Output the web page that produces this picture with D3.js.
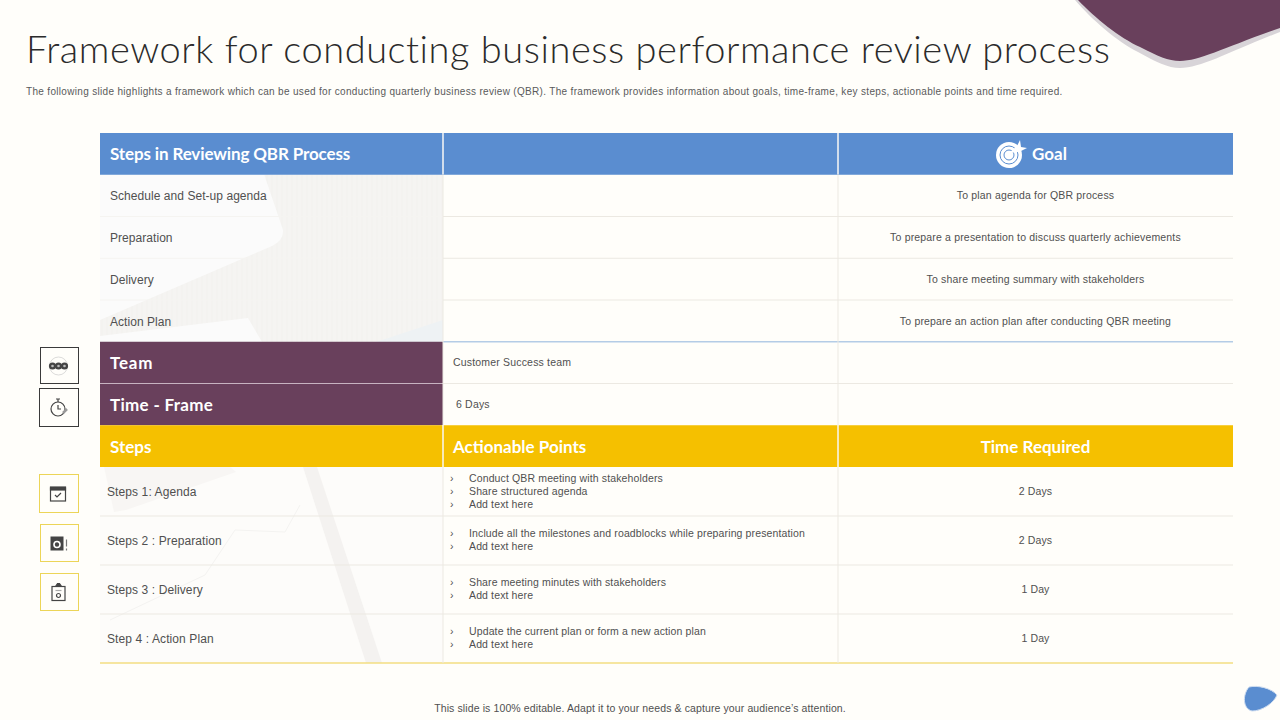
<!DOCTYPE html>
<html>
<head>
<meta charset="utf-8">
<script src="https://cdn.jsdelivr.net/npm/d3@7"></script>
<style>
  html, body { margin: 0; padding: 0; background: #fffefa; }
  svg { display: block; }
  .head { font-family: Lato, sans-serif; font-weight: 700; fill: #fff; }
  .cell { font-family: "Liberation Sans", Arial, sans-serif; fill: #505050; }
</style>
</head>
<body>
<svg id="chart" width="1280" height="720"></svg>
<script>
const titleText = 'Framework for conducting business performance review process';
const subtitleText = 'The following slide highlights a framework which can be used for conducting quarterly business review (QBR). The framework provides information about goals, time-frame, key steps, actionable points and time required.';
const footerText = 'This slide is 100% editable.  Adapt it to your needs & capture your audience\u2019s attention.';

const upperRows = ['review', 'schedule', 'preparation', 'delivery', 'action', 'team', 'time', 'steps'];
const lowerRows = ['s1', 's2', 's3', 's4'];

const reviewSteps = ['Schedule and Set-up agenda', 'Preparation', 'Delivery', 'Action Plan'];
const reviewGoals = [
  'To plan agenda for QBR process',
  'To prepare a presentation to discuss quarterly achievements',
  'To share meeting summary with stakeholders',
  'To prepare an action plan after conducting QBR meeting'
];
const stepNames = ['Steps 1: Agenda', 'Steps 2 : Preparation', 'Steps 3 : Delivery', 'Step 4 : Action Plan'];
const stepPoints = [
  ['Conduct QBR meeting with stakeholders', 'Share structured agenda', 'Add text here'],
  ['Include all the milestones and roadblocks while preparing presentation', 'Add text here'],
  ['Share meeting minutes with stakeholders', 'Add text here'],
  ['Update the current plan or form a new action plan', 'Add text here']
];
const stepTimes = ['2 Days', '2 Days', '1 Day', '1 Day'];

const BLUE = '#5a8dd0', PLUM = '#69405c', GOLD = '#f5c000', RULE = '#ece9e2';

const svg = d3.select('#chart');

// scales for the table grid
const colX = { label: 100, middle: 443, right: 838, end: 1233 };
const yUp = d3.scaleBand().domain(upperRows).range([133, 467]);
const yLow = d3.scaleBand().domain(lowerRows).range([467, 663]);
const colMid = (colX.right + colX.end) / 2;

// ---- Corner shapes ----
svg.append('path').attr('fill', '#d8d4d8')
  .attr('d', 'M1075,0 C1092,20 1118,42 1138,52 C1156,62 1168,68 1180,68 C1202,68 1228,52 1280,32 L1280,0 Z');
svg.append('path').attr('fill', PLUM)
  .attr('d', 'M1078,0 C1095,18 1120,38 1140,47 C1158,56 1168,61 1180,61 C1200,61 1225,47 1280,28 L1280,0 Z');
svg.append('path').attr('fill', BLUE).attr('stroke', '#cfddf0')
  .attr('d', 'M1249,687 C1258,685 1271,688 1277,695 C1274,703 1262,711 1252,711 C1243,709 1242,695 1249,687 Z');

// ---- Title ----
svg.append('text').text(titleText)
  .attr('x', 26).attr('y', 63)
  .style('font-family', 'Lato, sans-serif').style('font-weight', 300)
  .style('font-size', '38px').style('letter-spacing', '0.55px').style('fill', '#2b2b2b');
svg.append('text').text(subtitleText).attr('class', 'cell')
  .attr('x', 26).attr('y', 95)
  .style('font-size', '10px').style('letter-spacing', '0.32px').style('fill', '#5a5a5a');

// ---- Faded photos behind the label column ----
const defs = svg.append('defs');
defs.append('pattern').attr('id', 'grain')
  .attr('width', 5).attr('height', 40).attr('patternUnits', 'userSpaceOnUse')
  .append('path').attr('d', 'M2 0 V40').attr('stroke', '#f2f1ee').attr('stroke-width', 1);

const photo1 = svg.append('g');
photo1.append('rect').attr('x', colX.label).attr('y', yUp('schedule'))
  .attr('width', colX.middle - colX.label).attr('height', yUp('team') - yUp('schedule')).attr('fill', '#f5f4f2');
photo1.append('rect').attr('x', colX.label).attr('y', yUp('schedule'))
  .attr('width', colX.middle - colX.label).attr('height', yUp('team') - yUp('schedule')).attr('fill', 'url(#grain)');
photo1.append('path').attr('fill', '#fbfbfb')
  .attr('d', 'M100,174 L264,174 L283,230 Q284,240 272,246 L100,320 Z');
photo1.append('path').attr('fill', '#fbfbfb')
  .attr('d', 'M100,342 L100,336 L248,318 L262,342 Z');
photo1.append('path').attr('fill', '#eef2f4')
  .attr('d', 'M376,342 L443,320 L443,342 Z');

const photo2 = svg.append('g');
photo2.append('rect').attr('x', colX.label).attr('y', yLow('s1'))
  .attr('width', colX.middle - colX.label).attr('height', yLow.bandwidth() * 4).attr('fill', '#fdfcfa');
photo2.append('path').attr('fill', '#f4f2f0')
  .attr('d', 'M303,467 L317,467 L382,663 L366,663 Z');
photo2.append('path').attr('fill', 'none').attr('stroke', '#f4f3f1')
  .attr('d', 'M110,620 L205,575 L235,530 L285,532 L300,505');
photo2.append('path').attr('fill', '#f8f6f4')
  .attr('d', 'M104,467 L230,467 L236,472 L126,510 L114,512 Z');

// ---- Header bands ----
const bands = [
  { row: 'review', from: colX.label, to: colX.end, fill: BLUE },
  { row: 'team', from: colX.label, to: colX.middle, fill: PLUM },
  { row: 'time', from: colX.label, to: colX.middle, fill: PLUM },
  { row: 'steps', from: colX.label, to: colX.end, fill: GOLD }
];
svg.append('g').selectAll('rect').data(bands).join('rect')
  .attr('x', d => d.from).attr('y', d => yUp(d.row))
  .attr('width', d => d.to - d.from).attr('height', yUp.bandwidth())
  .attr('fill', d => d.fill);

// ---- Grid rules ----
const rules = svg.append('g').attr('stroke', RULE).attr('fill', 'none');
['preparation', 'delivery', 'action'].forEach(r => {
  rules.append('line').attr('x1', colX.middle).attr('x2', colX.end).attr('y1', yUp(r)).attr('y2', yUp(r));
  rules.append('line').attr('x1', colX.label).attr('x2', colX.middle).attr('y1', yUp(r)).attr('y2', yUp(r)).attr('stroke', '#f5f4f1');
});
rules.append('line').attr('x1', colX.middle).attr('x2', colX.end).attr('y1', yUp('team')).attr('y2', yUp('team')).attr('stroke', '#b4cce6').attr('stroke-width', 1.5);
rules.append('line').attr('x1', colX.label).attr('x2', colX.end).attr('y1', yUp('time')).attr('y2', yUp('time'));
rules.append('line').attr('x1', colX.label).attr('x2', colX.middle).attr('y1', yUp('time')).attr('y2', yUp('time')).attr('stroke', '#c7b3c1');
lowerRows.slice(1).forEach(r => {
  rules.append('line').attr('x1', colX.label).attr('x2', colX.end).attr('y1', yLow(r)).attr('y2', yLow(r));
});
rules.append('line').attr('x1', colX.label).attr('x2', colX.end).attr('y1', 663).attr('y2', 663).attr('stroke', '#f3de82').attr('stroke-width', 1.5);
// column dividers
[colX.middle, colX.right].forEach(cx => {
  rules.append('line').attr('x1', cx).attr('x2', cx).attr('y1', 133).attr('y2', 663).attr('stroke', RULE);
  rules.append('line').attr('x1', cx).attr('x2', cx).attr('y1', 133).attr('y2', 174).attr('stroke', '#fff');
  rules.append('line').attr('x1', cx).attr('x2', cx).attr('y1', 425).attr('y2', 467).attr('stroke', '#fff');
});

// ---- Header text ----
function head(text, tx, row, anchor, spacing, dy) {
  return svg.append('text').attr('class', 'head').text(text)
    .attr('x', tx).attr('y', yUp(row) + yUp.bandwidth() / 2 + 6 + (dy || 0))
    .attr('text-anchor', anchor || 'start').style('font-size', '17px')
    .style('letter-spacing', (spacing || 0) + 'px');
}
head('Steps in Reviewing QBR Process', 110, 'review', 'start', -0.13);
head('Goal', 1032, 'review');
head('Team', 110, 'team', 'start', 0.8);
head('Time - Frame', 110, 'time', 'start', 0.3, 1);
head('Steps', 110, 'steps', 'start', 0, 1);
head('Actionable Points', 453, 'steps', 'start', 0, 1);
head('Time Required', colMid, 'steps', 'middle', 0, 1);

// ---- Cell text ----
function cell(text, tx, ty, size, anchor, spacing) {
  return svg.append('text').attr('class', 'cell').text(text)
    .attr('x', tx).attr('y', ty).attr('text-anchor', anchor || 'start')
    .style('font-size', size + 'px').style('letter-spacing', (spacing || 0) + 'px');
}
const reviewRows = upperRows.slice(1, 5);
reviewSteps.forEach((t, i) => {
  cell(t, 110, yUp(reviewRows[i]) + 25.5, 12, 'start', 0.05);
  cell(reviewGoals[i], colMid, yUp(reviewRows[i]) + 24.5, 10.5, 'middle', 0.17);
});
cell('Customer Success team', 453, yUp('team') + 24, 10.5, 'start', 0.18);
cell('6 Days', 456, yUp('time') + 24, 10.5, 'start', 0.18);

stepNames.forEach((t, i) => {
  const r = lowerRows[i];
  const mid = yLow(r) + yLow.bandwidth() / 2;
  cell(t, 107, mid + 4, 12, 'start', 0.1);
  cell(stepTimes[i], colMid, mid + 3, 10.5, 'middle', 0.1);
  const pts = stepPoints[i];
  pts.forEach((p, j) => {
    const ty = mid + 3 + (j - (pts.length - 1) / 2) * 13;
    cell('\u203a', 450, ty, 10.5);
    cell(p, 469, ty, 10.5, 'start', 0.13);
  });
});

svg.append('text').attr('class', 'cell').text(footerText)
  .attr('x', 640).attr('y', 712).attr('text-anchor', 'middle')
  .style('font-size', '10.5px').style('letter-spacing', '0.11px');

// ---- Goal target icon ----
const target = svg.append('g').attr('transform', 'translate(1009,155)');
target.append('circle').attr('r', 13).attr('fill', '#fff');
target.append('circle').attr('r', 9).attr('fill', 'none').attr('stroke', BLUE);
target.append('circle').attr('r', 5).attr('fill', 'none').attr('stroke', BLUE);
target.append('path').attr('fill', '#fff').attr('d', 'M0,-2 L8,-9 L11,-15 L12,-8 L18,-7 L10,-3 Z');

// ---- Side icon boxes ----
const sideIcons = [
  { kind: 'team', x: 40, y: 347, w: 38, h: 36, stroke: '#3a3a3a' },
  { kind: 'time', x: 39, y: 388, w: 39, h: 38, stroke: '#3a3a3a' },
  { kind: 'calendar', x: 39, y: 474, w: 39, h: 38, stroke: '#ecd558' },
  { kind: 'gear', x: 40, y: 524, w: 38, h: 37, stroke: '#ecd558' },
  { kind: 'clip', x: 40, y: 573, w: 38, h: 37, stroke: '#ecd558' }
];
const iconG = svg.append('g').selectAll('g').data(sideIcons).join('g')
  .attr('transform', d => `translate(${d.x + 0.5},${d.y + 0.5})`);
iconG.append('rect').attr('width', d => d.w).attr('height', d => d.h)
  .attr('fill', '#fffefa').attr('stroke', d => d.stroke);
iconG.each(function (d) {
  const g = d3.select(this).append('g').attr('transform', `translate(${d.w / 2 - 1},${d.h / 2 + 0.5})`)
    .attr('fill', 'none').attr('stroke', '#444').attr('stroke-width', 1.2);
  if (d.kind === 'team') {
    g.append('circle').attr('r', 9).attr('stroke', '#ccc').attr('stroke-width', 0.7);
    [-6, 0, 6].forEach(c => g.append('circle').attr('cx', c).attr('r', 3.6).attr('fill', '#444').attr('stroke', 'none'));
    [-6, 0, 6].forEach(c => g.append('circle').attr('cx', c).attr('r', 1.3).attr('fill', '#bbb').attr('stroke', 'none'));
  } else if (d.kind === 'time') {
    g.append('circle').attr('r', 7).attr('cy', 1);
    g.append('path').attr('d', 'M0,-3 V1 H3');
    g.append('path').attr('d', 'M-2,-9 H2 M0,-9 V-6');
    g.append('path').attr('d', 'M5,5 L9,1').attr('stroke', '#999').attr('stroke-width', 2.5);
  } else if (d.kind === 'calendar') {
    g.append('rect').attr('x', -7.5).attr('y', -6).attr('width', 15).attr('height', 13);
    g.append('rect').attr('x', -7.5).attr('y', -7).attr('width', 15).attr('height', 3).attr('fill', '#444');
    g.append('path').attr('d', 'M-3,1 L-1,3 L3,-1');
  } else if (d.kind === 'gear') {
    g.append('rect').attr('x', -8).attr('y', -7).attr('width', 13).attr('height', 14).attr('fill', '#444').attr('stroke', 'none');
    g.append('circle').attr('cx', -1.5).attr('cy', 1).attr('r', 3).attr('fill', '#444').attr('stroke', '#fff').attr('stroke-width', 1.6);
    g.append('path').attr('d', 'M8,-4 V3 M8,5 V7').attr('stroke', '#777');
  } else {
    g.append('rect').attr('x', -6.5).attr('y', -6).attr('width', 13).attr('height', 14);
    g.append('path').attr('d', 'M-3,-6 L-1,-9 H1 L3,-6 Z').attr('fill', '#444');
    g.append('circle').attr('cy', 3).attr('r', 2);
    g.append('path').attr('d', 'M-3,-2 H3').attr('stroke', '#aaa');
  }
});
</script>
</body>
</html>
